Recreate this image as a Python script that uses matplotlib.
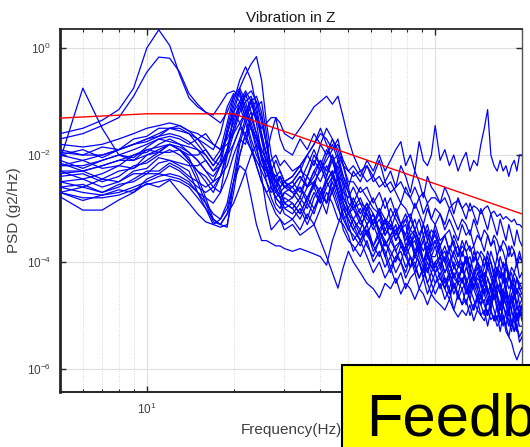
import numpy as np
import matplotlib
matplotlib.use("Agg")
import matplotlib.pyplot as plt
from matplotlib.ticker import FixedLocator, NullLocator, LogLocator, LogFormatterSciNotation, NullFormatter
from matplotlib.patches import Rectangle

plt.rcParams['font.family'] = ['Liberation Sans', 'DejaVu Sans']

# Frequency bins (Hz) shared by all runs
freq_hz = [5, 6, 7, 8, 9, 10, 11, 12, 13, 14,
           15, 16, 17, 18, 19, 20, 21, 22, 23, 24,
           25, 26, 27, 28, 29, 30,
           32, 34, 36, 38, 40, 42, 44, 46, 48, 50,
           52, 55, 58, 61, 64, 67, 70, 73, 76, 79, 82, 85, 88, 91, 94, 97, 100,
           104, 108, 112, 116, 120, 124, 128, 132, 136, 140, 144, 148, 152,
           156, 160, 164, 168, 172, 176, 180, 184, 188, 192, 196, 200]

# PSD of each measured run, as log10(g^2/Hz)
run_01 = [-1.6, -1.5, -1.35, -1.15, -0.75, 0.0, 0.34, 0.05, -0.5, -0.93,
          -1.1, -1.2, -1.25, -1.05, -0.85, -0.8, -0.9, -1.2, -1.5, -1.8,
          -2.0, -2.2, -2.4, -2.5, -2.6, -2.5,
          -2.6, -2.8, -2.4, -2.6, -2.2, -2.5, -2.3, -2.7, -2.9, -3.1,
          -3.0, -3.3, -3.1, -3.4, -3.2, -3.5, -3.3, -3.6, -3.4, -3.3, -3.7, -3.5, -3.8, -3.6, -3.4, -3.8, -3.6,
          -3.9, -3.7, -4.0, -3.8, -3.7, -4.1, -3.9, -4.2, -3.8, -4.0, -4.3, -4.1, -3.9,
          -4.2, -4.4, -4.1, -4.3, -4.0, -4.4, -4.2, -4.5, -4.3, -4.6, -4.4, -4.4]
run_02 = [-1.7, -1.6, -1.45, -1.3, -0.9, -0.45, -0.17, -0.19, -0.45, -0.85,
          -1.05, -1.2, -1.3, -1.4, -1.2, -0.9, -0.75, -1.0, -1.4, -1.7,
          -1.9, -2.1, -2.3, -2.4, -2.3, -2.5,
          -2.4, -2.2, -2.6, -2.5, -2.8, -2.4, -2.1, -2.5, -2.8, -3.0,
          -2.8, -3.1, -2.9, -3.3, -3.0, -3.4, -3.2, -3.5, -3.3, -3.6, -3.4, -3.5, -3.8, -3.6, -3.9, -3.7, -3.6,
          -3.9, -3.8, -4.1, -3.8, -4.0, -4.2, -3.9, -4.1, -4.3, -4.0, -4.2, -4.4, -4.1,
          -4.3, -4.5, -4.2, -4.4, -4.6, -4.3, -4.5, -4.4, -4.7, -4.5, -4.6, -4.7]
run_03 = [-2.1, -0.75, -1.5, -2.0, -2.1, -2.0, -1.9, -1.8, -1.9, -2.1,
          -2.3, -2.5, -2.7, -2.4, -1.9, -1.3, -1.1, -1.4, -1.8, -2.2,
          -2.5, -2.7, -2.6, -2.8, -2.9, -2.7,
          -2.8, -2.6, -2.9, -2.5, -2.7, -2.9, -2.4, -2.7, -3.2, -3.1,
          -3.2, -3.4, -3.0, -3.3, -3.6, -3.4, -3.5, -3.3, -3.7, -3.8, -3.5, -3.9, -3.6, -4.0, -3.8, -4.1, -4.0,
          -3.9, -4.2, -4.0, -4.3, -4.1, -4.0, -4.4, -4.2, -4.5, -4.3, -4.4, -4.6, -4.3,
          -4.5, -4.7, -4.4, -4.6, -4.8, -4.5, -4.7, -4.9, -4.6, -4.8, -5.0, -4.8]
run_04 = [-1.9, -2.0, -2.0, -1.9, -1.8, -1.7, -1.6, -1.5, -1.5, -1.6,
          -1.8, -2.0, -2.2, -2.0, -1.6, -1.1, -0.75, -0.5, -0.3, -0.16,
          -0.6, -1.4, -2.0, -2.3, -2.5, -2.6,
          -2.5, -2.3, -2.0, -1.8, -1.5, -1.8, -2.1, -2.0, -2.4, -2.6,
          -2.3, -2.5, -2.2, -2.4, -2.1, -2.5, -2.3, -2.6, -2.2, -2.4, -2.7, -2.3, -2.5, -2.8, -2.4, -2.6, -2.7,
          -2.9, -2.6, -2.8, -3.1, -2.8, -3.0, -3.2, -2.9, -3.1, -3.3, -3.0, -3.2, -3.4,
          -3.1, -3.3, -3.5, -3.2, -3.4, -3.6, -3.3, -3.5, -3.7, -3.4, -3.6, -3.7]
run_05 = [-2.0, -2.1, -2.0, -1.9, -1.8, -1.75, -1.65, -1.6, -1.65, -1.75,
          -1.9, -2.1, -2.3, -2.1, -1.5, -1.0, -0.6, -0.35, -0.6, -1.1,
          -1.6, -2.0, -2.3, -2.4, -2.6, -2.5,
          -2.7, -2.6, -2.8, -2.5, -2.3, -2.1, -1.9, -1.7, -2.2, -2.6,
          -3.0, -2.9, -3.2, -3.3, -3.1, -3.5, -3.3, -3.6, -3.4, -3.5, -3.7, -3.4, -3.6, -3.8, -3.6, -3.9, -3.9,
          -3.7, -4.0, -3.8, -4.1, -4.0, -4.2, -3.9, -4.1, -4.3, -4.1, -4.4, -4.2, -4.3,
          -4.5, -4.2, -4.4, -4.6, -4.3, -4.5, -4.7, -4.4, -4.6, -4.5, -4.8, -4.7]
run_06 = [-2.2, -2.2, -2.1, -2.0, -1.9, -1.8, -1.7, -1.65, -1.7, -1.8,
          -1.7, -1.6, -1.8, -1.9, -1.7, -1.4, -1.0, -0.8, -1.0, -1.3,
          -1.5, -1.4, -1.3, -1.3, -1.4, -1.6,
          -1.7, -1.5, -1.3, -1.1, -1.0, -0.9, -1.05, -0.9, -1.3, -1.7,
          -2.0, -2.3, -2.2, -2.5, -2.4, -2.6, -2.5, -2.7, -2.9, -2.6, -2.8, -3.0, -2.8, -3.1, -2.9, -3.2, -3.0,
          -3.1, -3.3, -3.0, -3.2, -3.4, -3.2, -3.3, -3.5, -3.2, -3.4, -3.6, -3.4, -3.5,
          -3.7, -3.5, -3.6, -3.8, -3.6, -3.7, -3.9, -3.7, -3.8, -4.0, -3.8, -4.0]
run_07 = [-1.8, -1.85, -1.8, -1.7, -1.6, -1.5, -1.45, -1.4, -1.45, -1.55,
          -1.7, -1.9, -2.1, -1.9, -1.4, -0.9, -0.85, -1.1, -1.5, -1.9,
          -2.2, -2.3, -2.1, -2.0, -2.2, -2.1,
          -2.3, -2.2, -2.0, -1.8, -1.6, -1.7, -1.9, -1.8, -2.1, -2.3,
          -2.2, -2.4, -2.1, -2.3, -2.0, -2.3, -2.1, -1.9, -1.75, -2.2, -2.0, -2.3, -1.75, -2.1, -2.2, -2.0, -1.45,
          -2.1, -1.9, -2.2, -2.0, -2.3, -2.1, -1.95, -2.3, -2.1, -2.2, -1.8, -1.5, -1.15,
          -2.0, -2.2, -2.3, -2.1, -2.3, -2.2, -2.4, -2.2, -2.1, -2.3, -2.0, -2.0]
run_08 = [-2.3, -2.3, -2.2, -2.1, -2.0, -1.9, -1.85, -1.8, -1.85, -1.95,
          -2.1, -2.3, -2.4, -2.2, -2.0, -1.8, -1.5, -1.2, -0.95, -1.3,
          -1.7, -2.0, -1.6, -1.3, -1.7, -1.9,
          -2.0, -1.7, -1.9, -1.6, -1.8, -1.5, -1.7, -2.0, -2.2, -2.3,
          -2.4, -2.3, -2.5, -2.4, -2.6, -2.5, -2.7, -2.6, -2.5, -2.7, -2.8, -2.6, -2.8, -2.7, -2.9, -2.8, -2.8,
          -2.9, -2.8, -3.0, -2.9, -2.85, -3.0, -2.9, -3.05, -2.95, -3.0, -3.1, -3.0, -2.95,
          -3.1, -3.05, -3.15, -3.1, -3.2, -3.15, -3.2, -3.25, -3.2, -3.3, -3.3, -3.35]
run_09 = [-2.6, -2.7, -2.75, -2.7, -2.6, -2.5, -2.4, -2.35, -2.4, -2.5,
          -2.7, -2.9, -3.1, -3.2, -3.0, -2.5, -2.2, -2.3, -2.8, -3.3,
          -3.6, -3.6, -3.65, -3.7, -3.7, -3.75,
          -3.8, -3.75, -3.8, -3.85, -3.9, -4.06, -3.6, -3.3, -3.0, -3.2,
          -3.4, -3.6, -3.3, -3.7, -3.5, -3.9, -3.6, -3.8, -4.0, -3.7, -3.9, -4.1, -3.8, -4.0, -4.2, -3.9, -4.2,
          -4.1, -4.4, -4.2, -4.5, -4.3, -4.1, -4.4, -4.6, -4.3, -4.5, -4.7, -4.4, -4.6,
          -4.8, -4.5, -4.7, -4.9, -4.6, -4.8, -5.0, -4.7, -4.9, -5.1, -4.9, -5.0]
run_10 = [-2.7, -2.8, -2.8, -2.75, -2.65, -2.55, -2.5, -2.45, -2.5, -2.6,
          -2.8, -3.0, -3.2, -3.3, -3.1, -2.9, -2.6, -2.3, -2.0, -1.8,
          -2.4, -3.0, -3.4, -3.3, -3.2, -3.4,
          -3.3, -3.5, -3.4, -3.3, -3.6, -3.9, -4.2, -4.49, -4.1, -3.8,
          -4.0, -4.2, -4.4, -4.5, -4.67, -4.4, -4.5, -4.3, -4.6, -4.4, -4.5, -4.7, -4.5, -4.6, -4.8, -4.6, -4.71,
          -4.8, -4.9, -4.7, -4.9, -5.03, -4.9, -5.0, -4.8, -5.1, -4.9, -5.0, -5.1, -4.9,
          -5.08, -5.0, -5.2, -5.1, -5.0, -5.3, -5.4, -5.5, -5.7, -5.83, -5.7, -5.6]
run_11 = [-2.0, -1.9, -2.05, -1.9, -1.8, -1.7, -1.65, -1.5, -1.55, -1.6,
          -1.7, -1.8, -1.9, -1.6, -1.1, -0.85, -1.0, -1.3, -1.7, -2.0,
          -2.2, -2.4, -2.3, -2.5, -2.4, -2.6,
          -2.5, -2.3, -2.4, -2.0, -2.2, -1.9, -2.1, -2.4, -2.5, -2.7,
          -2.9, -2.6, -2.8, -3.0, -3.1, -2.8, -3.2, -3.0, -3.3, -3.1, -3.4, -3.2, -3.5, -3.3, -3.6, -3.4, -3.5,
          -3.7, -3.5, -3.4, -3.7, -3.9, -3.6, -3.8, -3.7, -4.0, -3.8, -3.9, -4.1, -3.8,
          -4.0, -4.2, -3.9, -4.1, -4.3, -4.0, -4.2, -4.4, -4.2, -4.3, -4.5, -4.5]
run_12 = [-2.1, -2.25, -2.1, -2.0, -2.05, -1.85, -1.7, -1.75, -1.8, -1.85,
          -1.9, -2.0, -2.2, -2.0, -1.6, -1.2, -1.0, -1.3, -1.0, -1.4,
          -2.0, -2.5, -2.7, -2.6, -2.8, -2.7,
          -2.6, -2.4, -2.6, -2.3, -2.1, -2.4, -2.0, -2.3, -2.8, -3.0,
          -3.2, -3.0, -3.3, -3.1, -3.5, -3.2, -3.6, -3.4, -3.3, -3.7, -3.5, -3.8, -3.6, -4.0, -3.7, -3.9, -3.7,
          -4.1, -3.9, -4.2, -4.0, -4.3, -4.1, -4.0, -4.4, -4.2, -4.5, -4.3, -4.2, -4.6,
          -4.4, -4.7, -4.5, -4.4, -4.8, -4.6, -4.9, -4.7, -4.6, -4.9, -4.8, -5.0]
run_13 = [-2.2, -2.1, -2.25, -2.2, -2.0, -1.95, -1.8, -1.7, -1.8, -1.95,
          -2.1, -2.3, -2.5, -2.4, -2.0, -1.6, -1.2, -1.0, -0.9, -1.2,
          -1.7, -2.2, -2.6, -2.8, -2.7, -2.9,
          -2.8, -2.5, -2.2, -1.9, -2.2, -2.5, -2.3, -2.6, -2.9, -3.1,
          -2.9, -3.2, -3.5, -3.2, -3.4, -3.7, -3.5, -3.4, -3.6, -3.8, -3.6, -3.9, -3.7, -4.0, -3.8, -4.1, -4.1,
          -3.9, -4.2, -4.0, -4.3, -4.4, -4.1, -4.3, -4.5, -4.2, -4.4, -4.6, -4.3, -4.5,
          -4.7, -4.4, -4.6, -4.8, -4.5, -4.7, -4.9, -4.6, -4.8, -5.0, -4.9, -5.1]
run_14 = [-2.3, -2.45, -2.35, -2.2, -2.25, -2.0, -1.95, -1.8, -1.9, -2.05,
          -2.4, -2.8, -3.2, -3.3, -3.1, -2.5, -2.0, -1.6, -1.3, -1.1,
          -1.0, -1.6, -2.4, -2.9, -3.0, -2.8,
          -2.9, -3.1, -2.8, -2.6, -2.9, -2.5, -2.3, -2.7, -3.0, -3.2,
          -3.4, -3.2, -3.5, -3.7, -3.4, -3.6, -3.9, -3.7, -3.6, -3.8, -4.1, -3.9, -4.0, -4.2, -3.9, -4.1, -4.2,
          -4.0, -4.3, -4.5, -4.2, -4.4, -4.3, -4.6, -4.4, -4.5, -4.7, -4.4, -4.6, -4.8,
          -4.5, -4.7, -4.6, -4.9, -4.7, -4.8, -5.0, -4.7, -4.9, -5.1, -4.8, -4.9]
run_15 = [-2.4, -2.35, -2.5, -2.4, -2.2, -2.15, -2.0, -1.9, -2.0, -2.15,
          -2.5, -2.9, -3.25, -3.3, -3.35, -2.5, -1.8, -1.4, -1.2, -1.3,
          -1.6, -2.0, -2.4, -2.7, -2.6, -2.9,
          -3.0, -2.8, -3.0, -2.7, -2.9, -2.6, -2.4, -2.2, -2.6, -3.1,
          -3.3, -3.6, -3.4, -3.7, -3.9, -3.6, -3.8, -4.0, -3.7, -3.9, -4.1, -3.8, -4.0, -4.3, -4.0, -4.2, -4.0,
          -4.3, -4.5, -4.2, -4.4, -4.6, -4.3, -4.5, -4.7, -4.4, -4.6, -4.8, -4.5, -4.7,
          -4.9, -4.6, -4.8, -5.1, -4.8, -5.0, -5.2, -4.9, -5.1, -5.3, -5.0, -5.0]
run_16 = [-2.5, -2.6, -2.45, -2.5, -2.3, -2.25, -2.05, -2.1, -2.15, -2.2,
          -2.2, -2.1, -2.3, -2.2, -1.9, -1.5, -1.1, -0.85, -1.2, -1.6,
          -1.9, -2.1, -2.3, -2.5, -2.7, -2.6,
          -2.7, -2.9, -2.6, -2.4, -2.1, -2.3, -2.0, -2.4, -2.7, -2.8,
          -2.6, -2.9, -3.0, -2.8, -3.1, -3.3, -3.0, -3.2, -3.4, -3.2, -3.1, -3.4, -3.2, -3.5, -3.3, -3.6, -3.3,
          -3.6, -3.5, -3.8, -3.5, -3.7, -3.9, -3.6, -3.8, -3.7, -4.0, -3.8, -3.9, -4.1,
          -3.8, -4.0, -4.2, -3.9, -4.1, -4.0, -4.3, -4.1, -4.2, -4.0, -4.3, -4.2]
run_17 = [-2.6, -2.55, -2.7, -2.6, -2.45, -2.3, -2.3, -2.15, -2.25, -2.4,
          -2.5, -2.6, -2.5, -2.2, -1.6, -1.2, -1.4, -1.7, -1.9, -2.1,
          -2.3, -2.5, -2.8, -3.0, -3.1, -2.9,
          -3.0, -3.2, -2.9, -3.1, -2.7, -2.5, -2.7, -2.4, -2.9, -3.3,
          -3.6, -3.4, -3.7, -3.9, -3.6, -3.8, -4.1, -3.9, -4.0, -4.2, -3.9, -4.1, -4.3, -4.1, -4.4, -4.2, -4.4,
          -4.2, -4.5, -4.3, -4.6, -4.4, -4.5, -4.8, -4.5, -4.7, -4.9, -4.6, -4.8, -5.0,
          -4.7, -4.9, -5.1, -4.8, -5.0, -5.2, -4.9, -5.1, -5.3, -5.0, -5.2, -5.2]
run_18 = [-2.7, -2.85, -2.75, -2.65, -2.7, -2.45, -2.35, -2.4, -2.45, -2.55,
          -2.7, -2.8, -2.9, -2.7, -2.4, -2.0, -1.7, -1.8, -1.3, -1.6,
          -2.1, -2.3, -2.5, -2.7, -2.8, -3.0,
          -3.1, -2.9, -3.2, -2.8, -2.6, -2.9, -2.7, -3.0, -3.2, -3.4,
          -3.2, -3.5, -3.3, -3.1, -3.4, -3.7, -3.5, -3.8, -3.6, -3.9, -3.7, -3.6, -3.9, -4.1, -3.8, -4.0, -4.1,
          -3.9, -4.0, -4.3, -4.1, -4.2, -4.4, -4.1, -4.3, -4.5, -4.2, -4.4, -4.3, -4.5,
          -4.7, -4.4, -4.6, -4.4, -4.7, -4.5, -4.8, -4.6, -4.5, -4.8, -4.6, -4.6]
run_19 = [-2.78, -3.03, -3.03, -2.84, -2.7, -2.53, -2.6, -2.47, -2.7, -2.9,
          -3.1, -3.25, -3.3, -3.35, -3.3, -2.7, -2.0, -1.6, -1.5, -1.7,
          -2.0, -2.3, -2.6, -2.8, -2.9, -3.1,
          -3.2, -3.0, -3.3, -3.0, -2.8, -3.1, -2.6, -2.9, -3.4, -3.6,
          -3.7, -3.9, -3.6, -4.0, -3.8, -4.1, -3.9, -4.2, -4.0, -4.3, -4.1, -4.0, -4.3, -4.1, -4.4, -4.6, -4.4,
          -4.3, -4.5, -4.7, -4.4, -4.6, -4.8, -4.5, -4.7, -4.9, -4.7, -4.8, -5.0, -4.7,
          -4.9, -5.1, -4.8, -5.0, -5.2, -4.9, -5.1, -5.3, -5.0, -5.2, -5.4, -5.3]
run_20 = [-2.7, -2.6, -2.7, -2.55, -2.5, -2.35, -2.35, -2.2, -2.3, -2.45,
          -2.6, -2.7, -2.6, -2.4, -2.2, -1.8, -1.5, -1.6, -1.9, -2.2,
          -2.5, -2.7, -2.9, -3.1, -3.2, -3.3,
          -3.2, -3.4, -3.1, -3.3, -3.0, -2.7, -2.9, -3.2, -3.3, -3.5,
          -3.8, -3.6, -3.9, -4.2, -4.0, -4.3, -4.1, -4.4, -4.2, -4.5, -4.3, -4.2, -4.5, -4.3, -4.6, -4.4, -4.6,
          -4.4, -4.7, -4.5, -4.9, -4.6, -4.8, -4.7, -5.0, -4.8, -4.7, -5.0, -4.9, -5.2,
          -4.9, -5.1, -5.0, -5.3, -5.0, -5.2, -5.4, -5.1, -5.3, -5.2, -5.5, -5.4]
run_21 = [-1.95, -2.0, -1.85, -1.9, -1.7, -1.65, -1.5, -1.5, -1.45, -1.55,
          -1.6, -1.7, -1.8, -1.9, -1.8, -1.6, -1.4, -1.2, -1.0, -0.9,
          -1.2, -1.8, -2.3, -2.1, -2.3, -2.5,
          -2.4, -2.2, -2.0, -2.2, -1.8, -2.0, -1.7, -1.9, -2.2, -2.5,
          -2.5, -2.7, -2.6, -2.9, -2.7, -3.0, -2.8, -3.1, -2.9, -3.0, -3.2, -2.9, -3.1, -3.3, -3.0, -3.2, -3.3,
          -3.1, -3.4, -3.2, -3.4, -3.6, -3.3, -3.5, -3.4, -3.7, -3.5, -3.6, -3.8, -3.5,
          -3.7, -3.6, -3.9, -3.7, -3.8, -4.0, -3.7, -3.9, -3.8, -4.1, -3.9, -4.0]
run_22 = [-2.35, -2.3, -2.45, -2.3, -2.25, -2.1, -1.95, -1.95, -1.9, -2.1,
          -2.3, -2.4, -2.6, -2.7, -2.0, -1.2, -0.8, -1.2, -1.5, -1.7,
          -2.0, -2.2, -2.5, -2.6, -2.4, -2.6,
          -2.5, -2.7, -2.4, -2.1, -2.3, -2.0, -1.8, -2.1, -2.4, -2.7,
          -3.0, -3.2, -2.9, -3.1, -3.4, -3.2, -3.3, -3.5, -3.3, -3.2, -3.5, -3.4, -3.7, -3.5, -3.8, -3.6, -3.5,
          -3.8, -4.0, -3.7, -3.9, -4.1, -3.8, -4.0, -3.9, -4.2, -4.0, -4.1, -4.3, -4.0,
          -4.2, -4.4, -4.1, -4.3, -4.2, -4.5, -4.3, -4.4, -4.6, -4.3, -4.5, -4.6]
run_23 = [-2.15, -2.3, -2.2, -2.1, -2.1, -1.9, -1.95, -1.8, -1.9, -2.0,
          -2.0, -1.9, -2.1, -2.2, -1.9, -1.5, -1.1, -0.9, -0.8, -1.0,
          -1.4, -1.8, -2.2, -2.5, -2.4, -2.6,
          -2.6, -2.4, -2.6, -2.3, -2.5, -2.2, -2.4, -2.1, -2.5, -2.9,
          -3.0, -2.8, -3.1, -3.3, -3.0, -3.2, -3.4, -3.1, -3.3, -3.5, -3.2, -3.4, -3.6, -3.3, -3.5, -3.7, -3.4,
          -3.7, -3.5, -3.8, -3.6, -3.9, -3.7, -3.8, -4.1, -3.9, -4.0, -4.2, -3.9, -4.1,
          -4.0, -4.3, -4.1, -4.2, -4.4, -4.1, -4.3, -4.2, -4.5, -4.3, -4.4, -4.5]
run_24 = [-2.5, -2.45, -2.6, -2.5, -2.35, -2.35, -2.15, -2.1, -2.2, -2.3,
          -2.7, -3.0, -3.3, -3.2, -2.9, -2.3, -1.7, -1.3, -1.1, -1.0,
          -1.3, -1.8, -2.3, -2.6, -2.8, -3.0,
          -2.9, -3.1, -2.8, -3.0, -2.7, -2.9, -2.5, -2.8, -3.1, -3.4,
          -3.5, -3.7, -3.4, -3.8, -3.6, -3.9, -4.2, -3.9, -3.8, -4.1, -3.9, -4.2, -4.0, -4.3, -4.1, -4.4, -4.2,
          -4.5, -4.3, -4.6, -4.4, -4.7, -4.5, -4.4, -4.7, -4.9, -4.6, -4.8, -4.7, -5.0,
          -4.8, -4.6, -4.9, -5.1, -4.8, -5.0, -4.9, -5.2, -4.9, -5.1, -5.0, -5.0]

runs = [run_01, run_02, run_03, run_04, run_05, run_06, run_07, run_08,
        run_09, run_10, run_11, run_12, run_13, run_14, run_15, run_16,
        run_17, run_18, run_19, run_20, run_21, run_22, run_23, run_24]

# Specification limit (g^2/Hz)
limit_freq_hz = [5, 10, 20, 200]
limit_psd = [0.049, 0.059, 0.059, 0.00079]

fig = plt.figure(figsize=(5.30, 4.47), dpi=100)
ax = fig.add_axes([0.1132, 0.1230, 0.8717, 0.8121])

f = np.array(freq_hz, dtype=float)
for run in runs:
    ax.plot(f, 10.0 ** np.array(run), color='#0000ff', lw=0.9, zorder=3)
ax.plot(limit_freq_hz, limit_psd, color='#ff0000', lw=1.0, zorder=4)

ax.set_xscale('log')
ax.set_yscale('log')
ax.set_xlim(5, 200)
ax.set_ylim(3.7e-7, 2.27)

ax.xaxis.set_major_locator(FixedLocator([10, 100]))
ax.xaxis.set_major_formatter(LogFormatterSciNotation())
ax.xaxis.set_minor_locator(LogLocator(base=10, subs=np.arange(2, 10), numticks=20))
ax.xaxis.set_minor_formatter(NullFormatter())
ax.yaxis.set_major_locator(FixedLocator([1e0, 1e-2, 1e-4, 1e-6]))
ax.yaxis.set_major_formatter(LogFormatterSciNotation())
ax.yaxis.set_minor_locator(NullLocator())

ax.grid(True, which='major', color='#dedede', lw=0.8, zorder=0)
ax.xaxis.grid(True, which='minor', color='#d6d6d6', lw=0.7, linestyle=':', zorder=0)
ax.set_axisbelow(True)

ax.tick_params(which='both', direction='in', top=True, right=True,
               colors='#262626', labelcolor='#404040', labelsize=8.5)
ax.tick_params(which='major', length=4, width=1.0)
ax.tick_params(which='minor', length=2.5, width=0.8)
ax.tick_params(axis='x', which='major', pad=7)
ax.tick_params(axis='y', which='major', pad=6.5)

for side, lw in (('left', 2.0), ('bottom', 1.4), ('top', 1.3), ('right', 1.0)):
    ax.spines[side].set_linewidth(lw)
    ax.spines[side].set_color('#262626' if side != 'right' else '#555555')

ax.set_title('Vibration in Z', fontsize=11, color='#1a1a1a', pad=5)
ax.set_xlabel('Frequency(Hz)', fontsize=11, color='#404040')
ax.set_ylabel('PSD (g2/Hz)', fontsize=11, color='#404040')
ax.xaxis.set_label_coords(0.5, -0.085)
ax.yaxis.set_label_coords(-0.085, 0.5)

# Yellow call-out box in the lower right corner
fig.patches.append(Rectangle((342 / 530, -0.1), 0.5, 0.1 + (447 - 365) / 447,
                             transform=fig.transFigure, facecolor='#ffff00',
                             edgecolor='black', lw=1.5, zorder=10))
fig.text(366 / 530, 1 - 435 / 447, 'Feedback', fontsize=43, color='black',
         va='baseline', ha='left', zorder=11)

fig.savefig('out.png', dpi=100)
